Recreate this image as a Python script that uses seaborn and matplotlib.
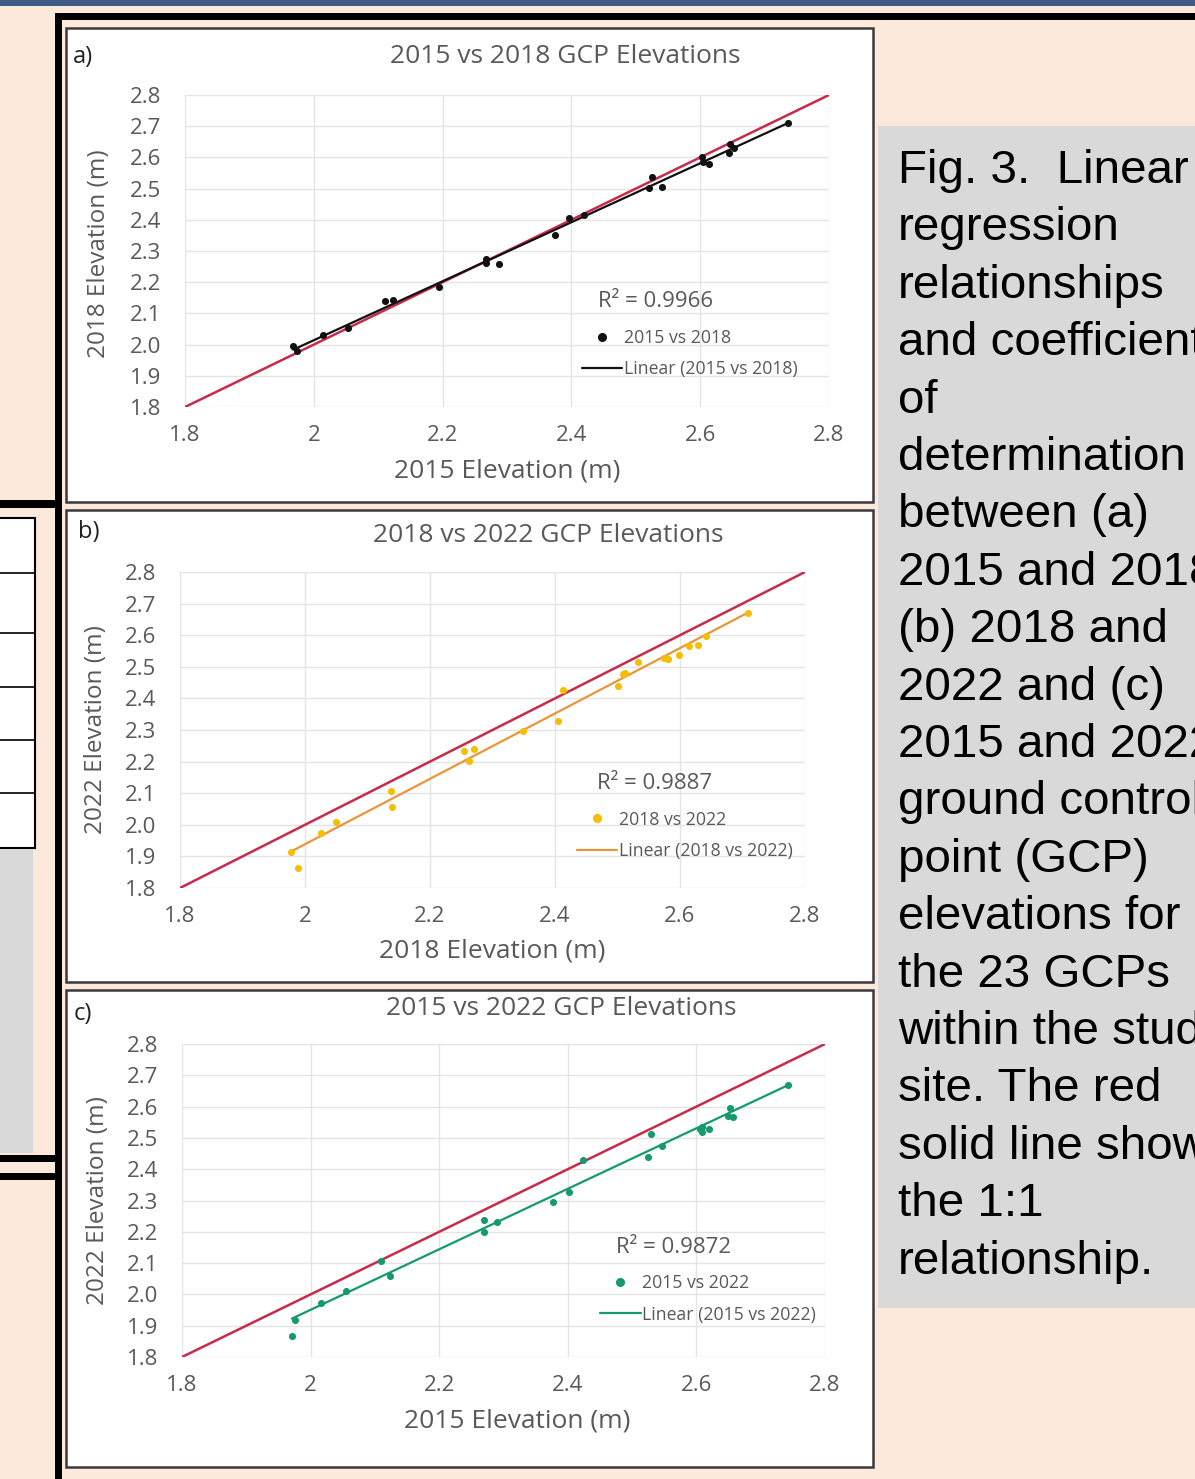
import numpy as np
import pandas as pd
import seaborn as sns
import matplotlib
matplotlib.use("Agg")
import matplotlib.pyplot as plt
from matplotlib.patches import Rectangle
from matplotlib.lines import Line2D

# ---------------- data ----------------
elev_2015_a = [1.968, 1.974, 2.015, 2.053, 2.110, 2.123, 2.194, 2.267, 2.267, 2.287, 2.374, 2.397,
               2.420, 2.521, 2.525, 2.541, 2.603, 2.605, 2.614, 2.644, 2.647, 2.652, 2.737]
elev_2018_a = [1.995, 1.979, 2.030, 2.053, 2.140, 2.142, 2.185, 2.273, 2.263, 2.258, 2.350, 2.407,
               2.415, 2.501, 2.536, 2.506, 2.600, 2.584, 2.578, 2.615, 2.644, 2.631, 2.709]

elev_2018_b = [1.977, 1.988, 2.026, 2.049, 2.138, 2.139, 2.254, 2.270, 2.263, 2.348, 2.405, 2.413,
               2.500, 2.508, 2.532, 2.574, 2.581, 2.599, 2.614, 2.629, 2.641, 2.709, 2.512]
elev_2022_b = [1.915, 1.862, 1.973, 2.008, 2.107, 2.057, 2.235, 2.239, 2.202, 2.297, 2.328, 2.427,
               2.439, 2.476, 2.516, 2.529, 2.524, 2.537, 2.566, 2.569, 2.597, 2.669, 2.481]

elev_2015_c = [1.971, 1.975, 2.016, 2.055, 2.109, 2.124, 2.269, 2.269, 2.290, 2.377, 2.402, 2.424,
               2.525, 2.530, 2.547, 2.608, 2.609, 2.620, 2.649, 2.652, 2.657, 2.743, 2.606]
elev_2022_c = [1.867, 1.918, 1.971, 2.011, 2.107, 2.060, 2.238, 2.200, 2.232, 2.294, 2.328, 2.429,
               2.440, 2.512, 2.474, 2.534, 2.520, 2.527, 2.570, 2.597, 2.566, 2.669, 2.530]

panel_tags = ["a)", "b)", "c)"]
panel_titles = ["2015 vs 2018 GCP Elevations", "2018 vs 2022 GCP Elevations", "2015 vs 2022 GCP Elevations"]
x_labels = ["2015 Elevation (m)", "2018 Elevation (m)", "2015 Elevation (m)"]
y_labels = ["2018 Elevation (m)", "2022 Elevation (m)", "2022 Elevation (m)"]
series_names = ["2015 vs 2018", "2018 vs 2022", "2015 vs 2022"]
r2_values = ["0.9966", "0.9887", "0.9872"]
x_ticks = [1.8, 2.0, 2.2, 2.4, 2.6, 2.8]
x_tick_labels = ["1.8", "2", "2.2", "2.4", "2.6", "2.8"]
y_ticks = [1.8, 1.9, 2.0, 2.1, 2.2, 2.3, 2.4, 2.5, 2.6, 2.7, 2.8]
y_tick_labels = ["1.8", "1.9", "2.0", "2.1", "2.2", "2.3", "2.4", "2.5", "2.6", "2.7", "2.8"]

caption_lines = ["Fig. 3.  Linear", "regression", "relationships", "and coefficient", "of",
                 "determination", "between (a)", "2015 and 2018", "(b) 2018 and", "2022 and (c)",
                 "2015 and 2022", "ground control", "point (GCP)", "elevations for", "the 23 GCPs",
                 "within the study", "site. The red", "solid line shows", "the 1:1", "relationship."]

series_x = [elev_2015_a, elev_2018_b, elev_2015_c]
series_y = [elev_2018_a, elev_2022_b, elev_2022_c]

# ---------------- styling / layout ----------------
W, H = 1195, 1479
PEACH = "#fde9db"
GREY_BOX = "#d9d9d9"
TXT = "#595959"
point_colors = ["#111111", "#f5be00", "#149a6c"]
line_colors = ["#111111", "#e9953a", "#149a6c"]
ONE_TO_ONE = "#c72a4b"

# axes pixel boxes: (x at 1.8, y at 1.8, x at 2.8, y at 2.8)
axes_px = [(185, 407, 829, 95), (180, 888, 805, 572), (182, 1357, 825, 1044)]
frame_px = [(66, 28, 873, 502), (66, 510, 873, 982), (66, 990, 873, 1467)]
tag_px = [(73, 57), (78, 532), (74, 1014)]
title_ax = [(0.59, 1.122), (0.59, 1.114), (0.59, 1.115)]
xlab_ax = [(0.5, -0.205), (0.5, -0.2), (0.521, -0.204)]
ylab_ax = [(-0.134, 0.49), (-0.135, 0.5), (-0.13, 0.5)]
r2_ax = [(0.641, 0.337), (0.667, 0.332), (0.675, 0.351)]
leg_ax = [(0.616, 0.25), (0.635, 0.245), (0.65, 0.264)]

sns.set_theme(style="white")
plt.rcParams["font.family"] = ["Open Sans", "DejaVu Sans"]

fig = plt.figure(figsize=(W / 100, H / 100), dpi=100, facecolor=PEACH)


def frect(x0, y0, x1, y1, **kw):
    """rectangle in pixel coords (top-left origin)"""
    r = Rectangle((x0 / W, 1 - y1 / H), (x1 - x0) / W, (y1 - y0) / H,
                  transform=fig.transFigure, **kw)
    fig.add_artist(r)
    return r


# poster decorations
frect(0, 0, W, 6, facecolor="#3e5c86", edgecolor="none")
frect(55, 13, W + 5, 20, facecolor="black", edgecolor="none")
frect(55, 13, 62, H + 5, facecolor="black", edgecolor="none")
frect(-5, 500, 60, 508, facecolor="black", edgecolor="none")
rows = [518, 573, 633, 687, 740, 793, 848]
frect(-5, 518, 35, 848, facecolor="white", edgecolor="black", linewidth=1.5)
for yy in rows[1:-1]:
    fig.add_artist(Line2D([0, 35 / W], [1 - yy / H, 1 - yy / H], transform=fig.transFigure,
                          color="black", lw=1.2))
frect(-5, 849, 33, 1153, facecolor=GREY_BOX, edgecolor="none")
frect(-5, 1155, 60, 1162, facecolor="black", edgecolor="none")
frect(-5, 1173, 60, 1180, facecolor="black", edgecolor="none")

# caption box
frect(878, 126, W + 5, 1308, facecolor=GREY_BOX, edgecolor="none")
for i, line in enumerate(caption_lines):
    base = 183 + i * 57.4
    fig.text(898 / W, 1 - base / H, line, ha="left", va="baseline",
             fontsize=34.2, family=["Liberation Sans", "DejaVu Sans"], color="black")

for k in range(3):
    fx0, fy0, fx1, fy1 = frame_px[k]
    frect(fx0, fy0, fx1, fy1, facecolor="white", edgecolor="#3a3a3a", linewidth=1.8, zorder=0)

    x0, y0, x1, y1 = axes_px[k]
    ax = fig.add_axes([x0 / W, 1 - y0 / H, (x1 - x0) / W, (y0 - y1) / H])
    ax.set_facecolor("none")
    ax.set_xlim(1.8, 2.8)
    ax.set_ylim(1.8, 2.8)
    ax.set_xticks(x_ticks)
    ax.set_xticklabels(x_tick_labels)
    ax.set_yticks(y_ticks)
    ax.set_yticklabels(y_tick_labels)
    ax.tick_params(axis="both", length=0, labelsize=16, labelcolor=TXT)
    ax.tick_params(axis="y", pad=17)
    ax.tick_params(axis="x", pad=13)
    ax.grid(True, color="#e4e4e4", lw=1)
    for s in ax.spines.values():
        s.set_visible(False)

    df = pd.DataFrame({"x": series_x[k], "y": series_y[k]})
    ax.axline((0, 0), slope=1, color=ONE_TO_ONE, lw=1.8, zorder=2)
    sns.regplot(data=df, x="x", y="y", ax=ax, ci=None, truncate=True,
                scatter_kws=dict(s=26, color=point_colors[k], linewidths=0, zorder=4, alpha=1),
                line_kws=dict(color=line_colors[k], lw=1.6, zorder=3))

    ax.set_xlabel(x_labels[k], fontsize=19, color=TXT)
    ax.set_ylabel(y_labels[k], fontsize=17.5, color=TXT)
    ax.xaxis.label.set(va="center")
    ax.yaxis.label.set(va="center")
    ax.xaxis.set_label_coords(*xlab_ax[k])
    ax.yaxis.set_label_coords(*ylab_ax[k])
    ax.set_title(panel_titles[k], x=title_ax[k][0], y=title_ax[k][1], va="center",
                 fontsize=19, color=TXT, pad=0)

    fig.text(tag_px[k][0] / W, 1 - tag_px[k][1] / H, panel_tags[k], ha="left", va="center",
             fontsize=17, color="#222222")

    ax.text(r2_ax[k][0], r2_ax[k][1], "R\u00b2 = " + r2_values[k], transform=ax.transAxes,
            ha="left", va="center", fontsize=16, color=TXT)
    handles = [Line2D([], [], ls="none", marker="o", markersize=5.5, color=point_colors[k]),
               Line2D([], [], color=line_colors[k], lw=1.6)]
    labels = [series_names[k], "Linear (" + series_names[k] + ")"]
    ax.legend(handles, labels, loc="upper left", bbox_to_anchor=leg_ax[k], frameon=False,
              fontsize=12.7, labelcolor=TXT, handlelength=2.3, handletextpad=0.1,
              labelspacing=0.75, borderpad=0, borderaxespad=0)

fig.savefig("out.png", dpi=100, facecolor=PEACH)
